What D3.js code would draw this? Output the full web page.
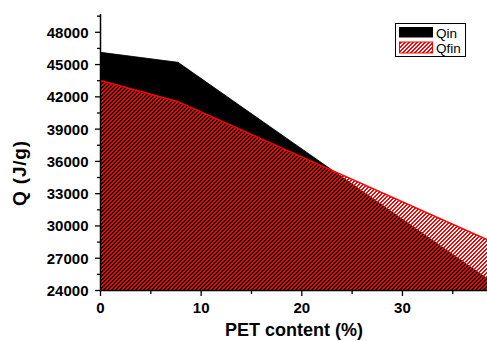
<!DOCTYPE html>
<html>
<head>
<meta charset="utf-8">
<script src="https://cdn.jsdelivr.net/npm/d3@7"></script>
<style>
  html, body { margin: 0; padding: 0; background: #fff; }
  svg { display: block; }
  text { font-family: "Liberation Sans", Arial, sans-serif; }
</style>
</head>
<body>
<svg id="chart" width="487" height="341"></svg>
<script>
// ---- data ----
const pet = [0, 7.7, 38.4];
const qin = [46140, 45210, 25120];
const qfin = [43510, 41550, 28740];
const seriesNames = ["Qin", "Qfin"];
const yTicks = [24000, 27000, 30000, 33000, 36000, 39000, 42000, 45000, 48000];
const yMinorTicks = [25500, 28500, 31500, 34500, 37500, 40500, 43500, 46500, 49500];
const xTicks = [0, 10, 20, 30];
const xMinorTicks = [5, 15, 25, 35];

const svg = d3.select("#chart");
const x = d3.scaleLinear().domain([0, 38.4]).range([100.5, 487]);
const y = d3.scaleLinear().domain([24000, 49700]).range([290.5, 14]);

const defs = svg.append("defs");
defs.append("clipPath").attr("id", "plotclip")
  .append("rect").attr("x", 100.5).attr("y", 14).attr("width", 387).attr("height", 276.5);

const pat = defs.append("pattern").attr("id", "hatch")
  .attr("patternUnits", "userSpaceOnUse").attr("width", 4).attr("height", 4);
[[2,0],[3,0],[1,1],[2,1],[0,2],[1,2],[3,3],[0,3]].forEach(([px, py]) => {
  pat.append("rect").attr("x", px).attr("y", py).attr("width", 1).attr("height", 1)
    .attr("fill", "#ff0000").attr("shape-rendering", "crispEdges");
});

const dIn = pet.map((p, i) => ({x: p, y: qin[i]}));
const dFin = pet.map((p, i) => ({x: p, y: qfin[i]}));

const area = d3.area().x(d => x(d.x)).y0(y(24000)).y1(d => y(d.y));
const line = d3.line().x(d => x(d.x)).y(d => y(d.y));

const g = svg.append("g").attr("clip-path", "url(#plotclip)");
g.append("path").datum(dIn).attr("d", area).attr("fill", "#000").attr("stroke", "#000").attr("stroke-width", 0.8);
g.append("path").datum(dFin).attr("d", area).attr("fill", "url(#hatch)");
g.append("path").datum(dFin).attr("d", line).attr("fill", "none").attr("stroke", "#ff0000").attr("stroke-width", 1.5);

// ---- axes ----
const yAxis = svg.append("g").attr("transform", "translate(100.5,0)");
yAxis.append("line").attr("x1", 0).attr("x2", 0).attr("y1", 14).attr("y2", 291.5)
  .attr("stroke", "#000").attr("stroke-width", 1.5);
yAxis.selectAll(".maj").data(yTicks).enter().append("line")
  .attr("x1", -5.5).attr("x2", 0).attr("y1", d => y(d)).attr("y2", d => y(d))
  .attr("stroke", "#000").attr("stroke-width", 1.3);
yAxis.selectAll(".min").data(yMinorTicks).enter().append("line")
  .attr("x1", -3.5).attr("x2", 0).attr("y1", d => y(d)).attr("y2", d => y(d))
  .attr("stroke", "#000").attr("stroke-width", 1.3);
yAxis.selectAll(".lab").data(yTicks).enter().append("text")
  .attr("x", -12).attr("y", d => y(d)).attr("dy", "0.36em")
  .attr("text-anchor", "end").attr("font-size", 15).attr("font-weight", "bold")
  .text(d => d);

const xAxis = svg.append("g").attr("transform", "translate(0,290.5)");
xAxis.append("line").attr("x1", 99.8).attr("x2", 487).attr("y1", 0).attr("y2", 0)
  .attr("stroke", "#000").attr("stroke-width", 1.5);
xAxis.selectAll(".maj").data(xTicks).enter().append("line")
  .attr("x1", d => x(d)).attr("x2", d => x(d)).attr("y1", 0).attr("y2", 5.5)
  .attr("stroke", "#000").attr("stroke-width", 1.3);
xAxis.selectAll(".min").data(xMinorTicks).enter().append("line")
  .attr("x1", d => x(d)).attr("x2", d => x(d)).attr("y1", 0).attr("y2", 3.5)
  .attr("stroke", "#000").attr("stroke-width", 1.3);
xAxis.selectAll(".lab").data(xTicks).enter().append("text")
  .attr("x", d => x(d)).attr("y", 22)
  .attr("text-anchor", "middle").attr("font-size", 15).attr("font-weight", "bold")
  .text(d => d);

svg.append("text").attr("x", 294).attr("y", 336).attr("text-anchor", "middle")
  .attr("font-size", 18).attr("font-weight", "bold").text("PET content (%)");
svg.append("text").attr("transform", "translate(26,173) rotate(-90)").attr("text-anchor", "middle")
  .attr("font-size", 19).attr("font-weight", "bold").attr("letter-spacing", 0.8).text("Q (J/g)");

// ---- legend ----
const lg = svg.append("g");
lg.append("rect").attr("x", 395.5).attr("y", 23.5).attr("width", 70).attr("height", 33)
  .attr("fill", "#fff").attr("stroke", "#000").attr("stroke-width", 1);
lg.append("rect").attr("x", 399).attr("y", 27).attr("width", 34).attr("height", 10.5).attr("fill", "#000");
lg.append("rect").attr("x", 399.5).attr("y", 42).attr("width", 33).attr("height", 11)
  .attr("fill", "url(#hatch)").attr("stroke", "#ff0000").attr("stroke-width", 1);
lg.selectAll(".lt").data(seriesNames).enter().append("text")
  .attr("x", 436).attr("y", (d, i) => 37.5 + i * 15.2)
  .attr("font-size", 13.5).text(d => d);
</script>
</body>
</html>
